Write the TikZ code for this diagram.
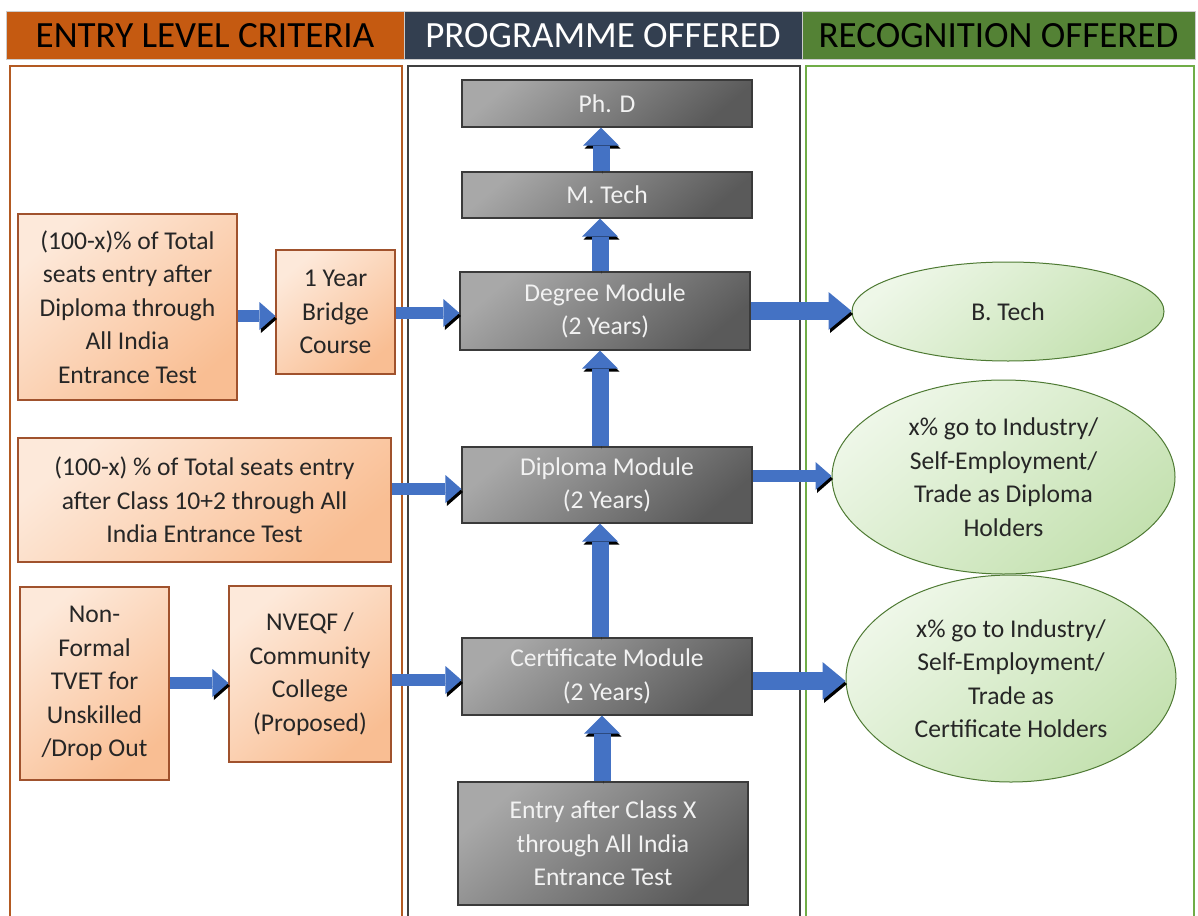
\documentclass[tikz,border=0pt]{standalone}
\usepackage{fontspec}
\setmainfont{Carlito}
\usetikzlibrary{arrows.meta,shapes.geometric}
\definecolor{hdorange}{HTML}{C55A11}
\definecolor{hdnavy}{HTML}{333F50}
\definecolor{hdgreen}{HTML}{548235}
\definecolor{frbrown}{HTML}{B35A22}
\definecolor{frdark}{HTML}{404040}
\definecolor{frgreen}{HTML}{70AD47}
\definecolor{grayA}{HTML}{A8A8A8}
\definecolor{grayB}{HTML}{5A5A5A}
\definecolor{grayline}{HTML}{3A3A3A}
\definecolor{orA}{HTML}{FDE9DA}
\definecolor{orB}{HTML}{F9BE93}
\definecolor{orline}{HTML}{A0522D}
\definecolor{grA}{HTML}{EEF7E8}
\definecolor{grB}{HTML}{C4E1B0}
\definecolor{grline}{HTML}{4E7A33}
\definecolor{arrblue}{HTML}{4472C4}
\definecolor{txtdark}{HTML}{262626}
\newcommand\bodyf{\fontsize{25.6}{33.5}\selectfont}
\newcommand\headf{\fontsize{37}{40}\selectfont}
\tikzset{
  header/.style={rectangle, draw=black!20, line width=1pt, minimum height=48pt, inner sep=0pt, font=\headf},
  graybox/.style={rectangle, draw=grayline, line width=1.2pt, top color=grayA, bottom color=grayB, shading angle=40, text=white!95!black, font=\bodyf, align=center, inner sep=0pt},
  orbox/.style={rectangle, draw=orline, line width=1.2pt, top color=orA, bottom color=orB, shading angle=40, text=txtdark, font=\bodyf, align=center, inner sep=0pt},
  grell/.style={ellipse, draw=grline, line width=1pt, top color=grA, bottom color=grB, shading angle=40, text=txtdark, font=\bodyf, align=center, inner sep=0pt},
  arrshadow/.style={preaction={draw=black, draw opacity=0.18, transform canvas={xshift=1.5pt, yshift=-3pt}}},
  harr/.style={draw=arrblue, line width=12pt, -{Triangle[width=28pt,length=16pt,line width=0pt]}, arrshadow},
  varr/.style={draw=arrblue, line width=17pt, -{Triangle[width=36pt,length=18pt,line width=0pt]}, arrshadow},
  rarr/.style={draw=arrblue, line width=18pt, -{Triangle[width=38pt,length=23pt,line width=0pt]}, arrshadow},
}
\begin{document}
\begin{tikzpicture}[x=1pt,y=-1pt]
\useasboundingbox[fill=white] (0,0) rectangle (1198,915);
% headers
\node[header, fill=hdorange, text=black, minimum width=398pt] (h1) at (205,36) {ENTRY LEVEL CRITERIA};
\node[header, fill=hdnavy, text=white, minimum width=398pt] (h2) at (603,36) {PROGRAMME OFFERED};
\node[header, fill=hdgreen, text=black, minimum width=393pt] (h3) at (998.5,36) {RECOGNITION OFFERED};
% column frames
\draw[frbrown, line width=1.5pt] (10,66) rectangle (402,930);
\draw[frdark, line width=1.2pt] (408,66) rectangle (800,930);
\draw[frgreen, line width=1.5pt] (806,66) rectangle (1194,930);
% programme boxes
\node[graybox, minimum width=290pt, minimum height=47pt] (phd) at (607,103.5) {Ph. D};
\node[graybox, minimum width=290pt, minimum height=46pt] (mtech) at (607,195) {M. Tech};
\node[graybox, minimum width=290pt, minimum height=78pt] (degree) at (605,311) {Degree Module\\(2 Years)};
\node[graybox, minimum width=290pt, minimum height=76pt] (diploma) at (607,485) {Diploma Module\\(2 Years)};
\node[graybox, minimum width=290pt, minimum height=77pt] (cert) at (607,676.5) {Certificate Module\\(2 Years)};
\node[graybox, minimum width=290pt, minimum height=123pt] (entry) at (603,843.5) {Entry after Class X\\through All India\\Entrance Test};
% entry boxes
\node[orbox, minimum width=219pt, minimum height=186pt] (dipentry) at (127.5,307) {(100-x)\% of Total\\seats entry after\\Diploma through\\All India\\Entrance Test};
\node[orbox, minimum width=119pt, minimum height=124pt] (bridge) at (335.5,312) {1 Year\\Bridge\\Course};
\node[orbox, minimum width=373pt, minimum height=124pt] (classentry) at (204.5,500) {(100-x) \% of Total seats entry\\after Class 10+2 through All\\India Entrance Test};
\node[orbox, minimum width=149pt, minimum height=193pt] (tvet) at (94.5,683.5) {Non-\\Formal\\TVET for\\Unskilled\\/Drop Out};
\node[orbox, minimum width=162pt, minimum height=176pt] (nveqf) at (310,674) {NVEQF /\\Community\\College\\(Proposed)};
% recognition ellipses
\node[grell, minimum width=312pt, minimum height=99pt] (btech) at (1008,311.5) {B. Tech};
\node[grell, minimum width=343pt, minimum height=194pt] (dipho) at (1003.5,477) {x\% go to Industry/\\Self-Employment/\\Trade as Diploma\\Holders};
\node[grell, minimum width=330pt, minimum height=207pt] (certho) at (1011,678.5) {x\% go to Industry/\\Self-Employment/\\Trade as\\Certificate Holders};
% horizontal arrows
\draw[harr] (dipentry.east |- 0,316) -- (bridge.west |- 0,316);
\draw[harr] (bridge.east |- 0,313) -- (degree.west |- 0,313);
\draw[rarr] (degree.east |- 0,311) -- (btech.west |- 0,311);
\draw[harr] (classentry.east |- 0,489) -- (diploma.west |- 0,489);
\draw[harr] (diploma.east |- 0,476) -- (dipho.west |- 0,476);
\draw[harr] (tvet.east |- 0,683) -- (nveqf.west |- 0,683);
\draw[harr] (nveqf.east |- 0,680) -- (cert.west |- 0,680);
\draw[rarr] (cert.east |- 0,681) -- (certho.west |- 0,681);
% vertical arrows
\draw[varr] (entry.north -| 602,0) -- (cert.south -| 602,0);
\draw[varr] (cert.north -| 600,0) -- (diploma.south -| 600,0);
\draw[varr] (diploma.north -| 600,0) -- (degree.south -| 600,0);
\draw[varr] (degree.north -| 600,0) -- (mtech.south -| 600,0);
\draw[varr] (mtech.north -| 601,0) -- (phd.south -| 601,0);
\end{tikzpicture}
\end{document}
